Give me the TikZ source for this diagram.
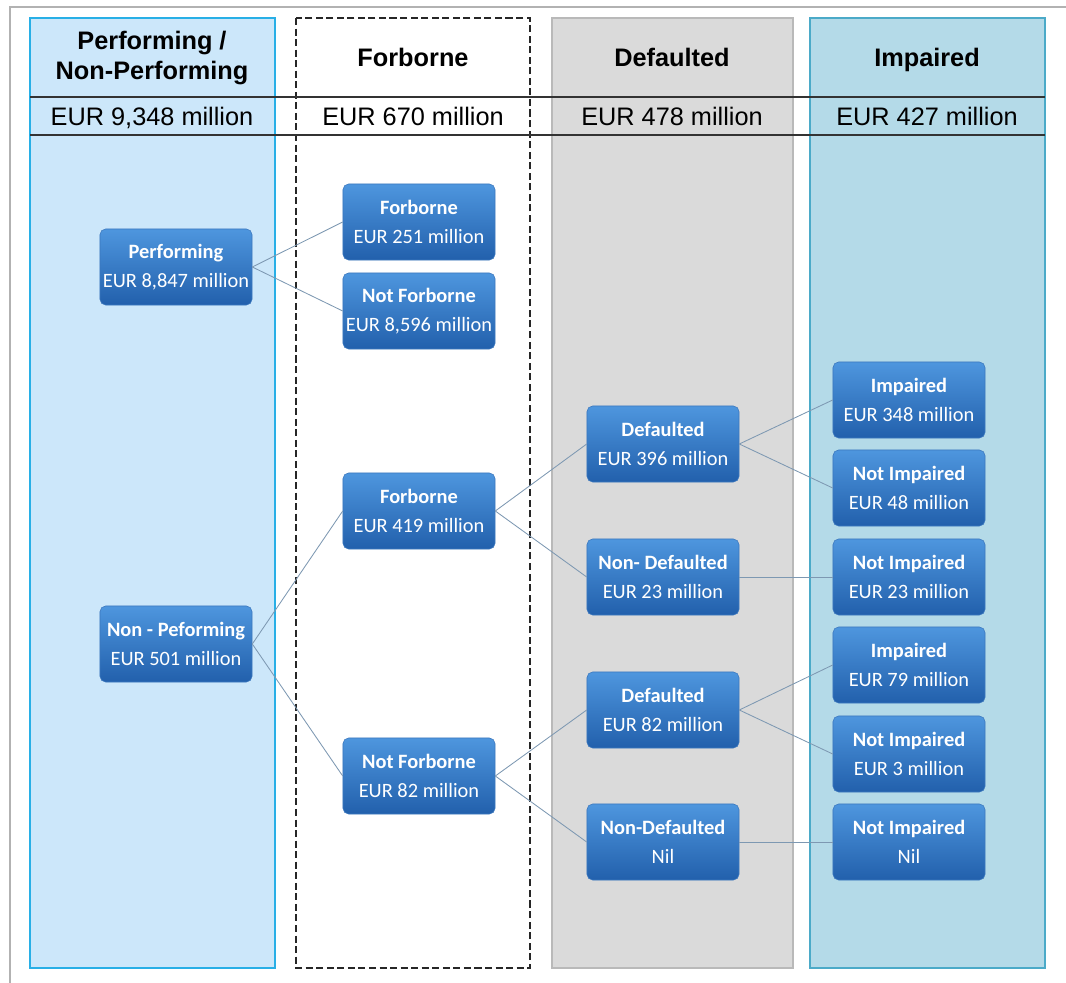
\documentclass[tikz,border=0pt]{standalone}
\usepackage{fontspec}
\setmainfont{Liberation Sans}
\newfontfamily\boxfont{Carlito}
\usepackage{xcolor}
\definecolor{paneblue}{RGB}{204,231,250}
\definecolor{paneblueedge}{RGB}{40,175,230}
\definecolor{panegrey}{RGB}{218,218,218}
\definecolor{panegreyedge}{RGB}{185,185,185}
\definecolor{paneteal}{RGB}{180,218,232}
\definecolor{panetealedge}{RGB}{75,170,200}
\definecolor{boxtop}{RGB}{78,150,222}
\definecolor{boxbot}{RGB}{34,96,172}
\definecolor{boxedge}{RGB}{60,120,190}
\definecolor{linkcol}{RGB}{125,152,178}

\begin{document}
\begin{tikzpicture}[x=0.025cm,y=-0.025cm,
                  loan/.style={rectangle,rounded corners=4pt,draw=boxedge,top color=boxtop,
                    bottom color=boxbot,text=white,align=center,inner sep=0pt,
                    minimum width=3.8cm,minimum height=1.9cm,
                    font=\boxfont\fontsize{14.5}{20.5}\selectfont},
                  link/.style={draw=linkcol,line width=0.6pt},
                  head/.style={font=\bfseries\fontsize{18}{21}\selectfont,align=center},
                  total/.style={font=\fontsize{18}{21}\selectfont,anchor=base}
                  ]
                  \useasboundingbox (0,0) rectangle (1066,983);
                  % page frame
                  \draw[gray!60,line width=0.8pt] (10,983) -- (10,7) -- (1066,7);
                  % the four columns
                  \draw[fill=paneblue,draw=paneblueedge,line width=0.9pt] (30,18) rectangle (275,968);
                  \draw[fill=white,draw=black!85,dash pattern=on 5pt off 2.5pt,line width=1.1pt] (296,18) rectangle (530,968);
                  \draw[fill=panegrey,draw=panegreyedge,line width=0.8pt] (552,18) rectangle (793,968);
                  \draw[fill=paneteal,draw=panetealedge,line width=0.9pt] (810,18) rectangle (1045,968);
                  \draw[line width=0.9pt,black!80] (30,97) -- (1045,97);
                  \draw[line width=0.9pt,black!80] (30,135) -- (1045,135);
                  % headers
                  \node[head] (H1) at (152,58) {Performing /\\Non-Performing};
                  \node[head,anchor=base] (H2) at (413,67) {Forborne};
                  \node[head,anchor=base] (H3) at (672,67) {Defaulted};
                  \node[head,anchor=base] (H4) at (927,67) {Impaired};
                  \node[total] (T1) at (152,126) {EUR 9,348 million};
                  \node[total] (T2) at (413,126) {EUR 670 million};
                  \node[total] (T3) at (672,126) {EUR 478 million};
                  \node[total] (T4) at (927,126) {EUR 427 million};
                  % boxes
                  \node[loan] (Perf)  at (176,267) {\textbf{Performing}\\EUR 8,847 million};
                  \node[loan] (NPerf) at (176,644) {\textbf{Non - Peforming}\\EUR 501 million};
                  \node[loan] (F1)    at (419,222) {\textbf{Forborne}\\EUR 251 million};
                  \node[loan] (NF1)   at (419,311) {\textbf{Not Forborne}\\EUR 8,596 million};
                  \node[loan] (F2)    at (419,511) {\textbf{Forborne}\\EUR 419 million};
                  \node[loan] (NF2)   at (419,776) {\textbf{Not Forborne}\\EUR 82 million};
                  \node[loan] (D1)    at (663,444) {\textbf{Defaulted}\\EUR 396 million};
                  \node[loan] (ND1)   at (663,577) {\textbf{Non- Defaulted}\\EUR 23 million};
                  \node[loan] (D2)    at (663,710) {\textbf{Defaulted}\\EUR 82 million};
                  \node[loan] (ND2)   at (663,842) {\textbf{Non-Defaulted}\\Nil};
                  \node[loan] (I1)    at (909,400) {\textbf{Impaired}\\EUR 348 million};
                  \node[loan] (NI1)   at (909,488) {\textbf{Not Impaired}\\EUR 48 million};
                  \node[loan] (NI2)   at (909,577) {\textbf{Not Impaired}\\EUR 23 million};
                  \node[loan] (I3)    at (909,665) {\textbf{Impaired}\\EUR 79 million};
                  \node[loan] (NI3)   at (909,754) {\textbf{Not Impaired}\\EUR 3 million};
                  \node[loan] (NI4)   at (909,842) {\textbf{Not Impaired}\\Nil};
                  % links
                  \draw[link] (Perf.east) -- (F1.west);
                  \draw[link] (Perf.east) -- (NF1.west);
                  \draw[link] (NPerf.east) -- (F2.west);
                  \draw[link] (NPerf.east) -- (NF2.west);
                  \draw[link] (F2.east) -- (D1.west);
                  \draw[link] (F2.east) -- (ND1.west);
                  \draw[link] (NF2.east) -- (D2.west);
                  \draw[link] (NF2.east) -- (ND2.west);
                  \draw[link] (D1.east) -- (I1.west);
                  \draw[link] (D1.east) -- (NI1.west);
                  \draw[link] (ND1.east) -- (NI2.west);
                  \draw[link] (D2.east) -- (I3.west);
                  \draw[link] (D2.east) -- (NI3.west);
                  \draw[link] (ND2.east) -- (NI4.west);
                \end{tikzpicture}
\end{document}
